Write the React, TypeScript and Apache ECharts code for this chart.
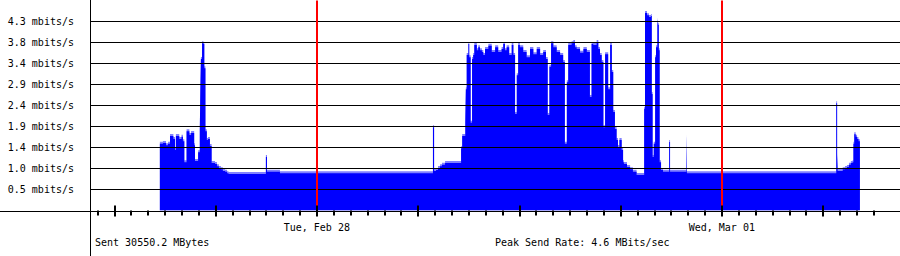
import { useEffect, useRef } from "react";
import * as echarts from "echarts";

// Time is in minutes since Tue, Feb 28 00:00; rates are in mbits/s.
const dayLabels = ["Tue, Feb 28", "Wed, Mar 01"];
const dayStarts = [0, 1440];
const hourTicks = Array.from({ length: 47 }, (_, i) => i - 13);
const majorHourTicks = [-12, -6, 0, 6, 12, 18, 24, 30];
const yStep = 0.48;
const yTickLabels = [
  "0.5 mbits/s",
  "1.0 mbits/s",
  "1.4 mbits/s",
  "1.9 mbits/s",
  "2.4 mbits/s",
  "2.9 mbits/s",
  "3.4 mbits/s",
  "3.8 mbits/s",
  "4.3 mbits/s",
];
const sentText = "Sent 30550.2 MBytes";
const peakText = "Peak Send Rate: 4.6 MBits/sec";

const times = [
  -558, -547, -536, -529, -522, -510, -504, -501, -489, -481, -476, -471, -463, -453, -447, -436, -433, -422,
  -416, -414, -412, -408, -403, -400, -396, -391, -387, -380, -374, -362, -355, -348, -341, -334, -326, -319,
  -314, -181, -177, -131, 413, 417, 424, 431, 438, 445, 456, 513, 517, 528, 530, 533, 539, 542, 547, 552,
  556, 560, 569, 574, 580, 587, 592, 598, 610, 622, 634, 645, 657, 663, 669, 675, 684, 693, 699, 705, 711,
  716, 722, 734, 746, 758, 770, 782, 794, 805, 815, 821, 827, 833, 841, 853, 865, 876, 882, 889, 894, 906,
  912, 918, 924, 936, 948, 960, 971, 977, 983, 995, 1001, 1007, 1013, 1019, 1025, 1036, 1043, 1049, 1054,
  1060, 1066, 1071, 1076, 1084, 1089, 1092, 1103, 1114, 1124, 1137, 1164, 1167, 1174, 1181, 1188, 1191,
  1194, 1198, 1203, 1206, 1211, 1213, 1216, 1219, 1224, 1231, 1253, 1256, 1314, 1316, 1847, 1850, 1852,
  1870, 1878, 1885, 1892, 1899, 1905, 1908, 1911, 1916, 1921, 1926, 1931,
];
const rates = [
  1.57, 1.59, 1.54, 1.57, 1.75, 1.68, 1.43, 1.75, 1.68, 1.73, 1.63, 1.15, 1.86, 1.77, 1.82, 1.54, 1.18, 1.38,
  1.89, 2.82, 3.51, 3.87, 3.85, 3.3, 1.86, 1.66, 1.68, 1.52, 1.13, 1.11, 1.06, 1.02, 0.99, 0.95, 0.93, 0.9,
  0.88, 1.27, 0.93, 0.9, 1.95, 0.95, 0.97, 1.02, 1.06, 1.09, 1.13, 1.47, 1.75, 2.07, 2.82, 3.6, 3.85, 3.55,
  2.05, 3.51, 3.6, 3.83, 3.71, 3.78, 3.71, 3.67, 3.6, 3.74, 3.81, 3.67, 3.78, 3.67, 3.74, 3.85, 3.71, 3.78,
  3.6, 3.83, 3.6, 2.25, 3.14, 3.83, 3.78, 3.67, 3.55, 3.74, 3.62, 3.74, 3.6, 3.67, 3.51, 2.23, 3.33, 3.87,
  3.78, 3.67, 3.6, 3.44, 1.57, 2.98, 3.83, 3.87, 3.9, 3.78, 3.74, 3.65, 3.74, 3.67, 2.64, 3.85, 3.83, 3.9,
  3.74, 3.6, 3.44, 1.95, 3.62, 2.82, 3.83, 3.21, 2.3, 1.91, 1.66, 1.5, 1.66, 1.43, 1.15, 1.11, 1.04, 0.99,
  0.93, 0.86, 2.37, 4.56, 4.51, 4.47, 4.49, 2.71, 1.27, 1.57, 3.55, 3.78, 4.42, 4.29, 3.71, 1.15, 0.97, 0.93,
  1.61, 0.93, 1.77, 0.9, 2.5, 1.31, 0.95, 0.99, 1.02, 1.04, 1.09, 1.13, 1.15, 1.57, 1.79, 1.73, 1.68, 1.63,
  1.63,
];

const FONT = "DejaVu Sans Mono";

export default function App() {
  const ref = useRef<HTMLDivElement>(null);

  useEffect(() => {
    if (!ref.current) return;
    const chart = echarts.init(ref.current, null, { renderer: "svg" });
    const edge = (2 * yStep) / 21; // light top edge thickness
    const outer = times.map((t, i) => [t, rates[i]]);
    const inner = times.map((t, i) => [t, Math.max(rates[i] - edge, 0)]);
    const xMin = -806.4;
    const xMax = 2073.6;

    chart.setOption({
      animation: false,
      grid: { left: 90, right: 0, top: 0.5, height: 210, containLabel: false },
      xAxis: [
        {
          type: "value",
          min: xMin,
          max: xMax,
          position: "bottom",
          offset: 1,
          z: 10,
          axisLine: { show: false },
          splitLine: { show: false },
          axisTick: {
            show: true,
            customValues: hourTicks.map((h) => h * 60),
            length: 5,
            lineStyle: { color: "#000", width: 2 },
          },
          axisLabel: {
            show: true,
            customValues: dayStarts,
            formatter: (v: number) => dayLabels[dayStarts.indexOf(v)] ?? "",
            color: "#000",
            fontFamily: FONT,
            fontSize: 10,
            margin: 11,
          },
        },
        {
          type: "value",
          min: xMin,
          max: xMax,
          position: "bottom",
          offset: -5,
          z: 10,
          axisLine: { show: false },
          splitLine: { show: false },
          axisTick: {
            show: true,
            customValues: majorHourTicks.map((h) => h * 60),
            length: 11,
            lineStyle: { color: "#000", width: 2 },
          },
          axisLabel: { show: false },
        },
      ],
      yAxis: {
        type: "value",
        min: 0,
        max: 4.8,
        interval: yStep,
        z: 5,
        axisLine: { show: false },
        axisTick: { show: false },
        splitLine: {
          show: true,
          showMinLine: false,
          showMaxLine: false,
          lineStyle: { color: "#000", width: 1 },
        },
        axisLabel: {
          showMinLabel: false,
          showMaxLabel: false,
          formatter: (v: number) => yTickLabels[Math.round(v / yStep) - 1] ?? "",
          color: "#000",
          fontFamily: FONT,
          fontSize: 10,
          margin: 16,
        },
      },
      series: [
        {
          type: "line",
          step: "end",
          data: outer,
          symbol: "none",
          lineStyle: { width: 0 },
          areaStyle: { color: "#8080ff", opacity: 1 },
          z: 2,
        },
        {
          type: "line",
          step: "end",
          data: inner,
          symbol: "none",
          lineStyle: { width: 0 },
          areaStyle: { color: "#0000ff", opacity: 1 },
          z: 3,
        },
        {
          type: "line",
          data: [],
          z: 7,
          markLine: {
            silent: true,
            symbol: ["none", "none"],
            label: { show: false },
            lineStyle: { color: "#ff0000", width: 2, type: "solid" },
            data: dayStarts.map((t) => ({ xAxis: t })),
          },
        },
      ],
      graphic: [
        {
          type: "line",
          z: 20,
          shape: { x1: 90.5, y1: 0, x2: 90.5, y2: 256 },
          style: { stroke: "#000", lineWidth: 1 },
        },
        {
          type: "line",
          z: 20,
          shape: { x1: 0, y1: 211.5, x2: 900, y2: 211.5 },
          style: { stroke: "#000", lineWidth: 1 },
        },
        {
          type: "text",
          z: 20,
          x: 95,
          y: 242.5,
          style: { text: sentText, fill: "#000", font: `10px "${FONT}"`, verticalAlign: "middle" },
        },
        {
          type: "text",
          z: 20,
          x: 495,
          y: 242.5,
          style: { text: peakText, fill: "#000", font: `10px "${FONT}"`, verticalAlign: "middle" },
        },
      ],
    });

    return () => chart.dispose();
  }, []);

  return (
    <div
      ref={ref}
      style={{ position: "fixed", left: 0, top: 0, width: 900, height: 256, background: "#fff" }}
    />
  );
}
